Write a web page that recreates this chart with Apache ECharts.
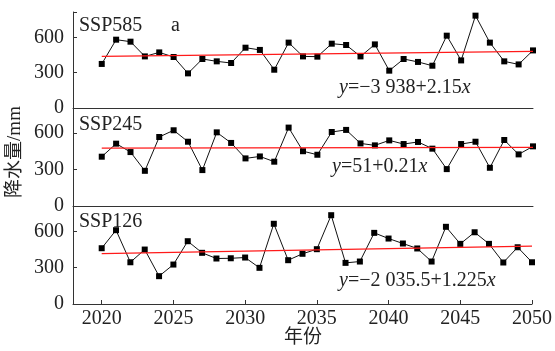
<!DOCTYPE html>
<html><head><meta charset="utf-8">
<script src="https://cdn.jsdelivr.net/npm/echarts@6/dist/echarts.min.js"></script>
<style>html,body{margin:0;padding:0;background:#fff}#c{width:555px;height:351px}</style>
</head><body><div id="c"></div>
<script>
const years = [];
for (let y = 2020; y <= 2050; y++) years.push(y);
const xTicks = [2020, 2025, 2030, 2035, 2040, 2045, 2050];
const yTicks = [0, 300, 600];
const scenarios = ['SSP585', 'SSP245', 'SSP126'];
const ssp585 = [374,580,563,438,472,433,294,416,396,382,512,493,325,555,438,436,546,535,438,540,317,416,391,359,614,404,784,555,396,370,489];
const ssp245 = [405,512,443,289,567,622,528,295,605,518,391,407,364,644,450,421,608,625,514,498,539,509,526,471,303,509,528,314,542,424,490];
const ssp126 = [461,610,345,450,230,326,519,423,376,378,384,299,663,362,415,453,734,340,351,588,541,500,459,351,638,497,593,497,343,469,345];
const trend585 = [438, 481];
const trend245 = [475, 482];
const trend126 = [417, 478];
const equations = ['{i|y}=−3 938+2.15{i|x}', '{i|y}=51+0.21{i|x}', '{i|y}=−2 035.5+1.225{i|x}'];
const xTitle = '年份';
const yTitle = '降水量/mm';
const yMax = [815, 805, 810];

const FONT = 'Liberation Serif';
const CJK = 'Liberation Serif, Noto Sans CJK SC';
const TXT = '#222';
const values = [ssp585, ssp245, ssp126];
const trends = [trend585, trend245, trend126];
const grids = [{top: 12, height: 96}, {top: 108, height: 98}, {top: 206, height: 98}];

const option = {
  animation: true,
  animationDuration: 200,
  animationDurationUpdate: 0,
  grid: grids.map(g => ({left: 73, width: 460, top: g.top, height: g.height, containLabel: false})),
  xAxis: grids.map((g, i) => ({
    type: 'value', gridIndex: i, min: 2018, max: 2050,
    axisLine: {show: true, onZero: false, lineStyle: {color: '#333', width: 1}},
    axisTick: {show: i === 2, inside: true, length: 4, customValues: xTicks, lineStyle: {color: '#333'}},
    axisLabel: {show: i === 2, customValues: xTicks, fontFamily: FONT, fontSize: 20, color: TXT, margin: 5,
      formatter: v => String(v)},
    splitLine: {show: false}
  })),
  yAxis: grids.map((g, i) => ({
    type: 'value', gridIndex: i, min: 0, max: yMax[i], interval: 300,
    axisLine: {show: true, lineStyle: {color: '#333', width: 1}},
    axisTick: {show: true, inside: true, length: 4, lineStyle: {color: '#333'}},
    axisLabel: {fontFamily: FONT, fontSize: 20, color: TXT, margin: 9,
      formatter: v => (yTicks.indexOf(v) >= 0 ? String(v) : '')},
    splitLine: {show: false}
  })),
  series: [],
  graphic: []
};
values.forEach((vals, i) => {
  option.series.push({
    type: 'line', xAxisIndex: i, yAxisIndex: i,
    data: years.map((y, k) => [y, vals[k]]),
    symbol: 'rect', symbolSize: 6,
    lineStyle: {color: '#111', width: 1},
    itemStyle: {color: '#000'},
    z: 3
  });
  option.series.push({
    type: 'line', xAxisIndex: i, yAxisIndex: i,
    data: [[years[0], trends[i][0]], [years[years.length - 1], trends[i][1]]],
    symbol: 'none',
    lineStyle: {color: '#ff1a1a', width: 1.2},
    z: 4
  });
});
const labelY = [26, 125, 222];
const eqX = [339, 332, 339];
const eqY = [89, 168, 282];
scenarios.forEach((s, i) => {
  option.graphic.push({type: 'text', left: 79, top: labelY[i] - 10,
    style: {text: s, fontFamily: FONT, fontSize: 20, fill: TXT}});
  option.graphic.push({type: 'text', left: eqX[i], top: eqY[i] - 11,
    style: {text: equations[i], fontFamily: FONT, fontSize: 20, fill: TXT,
      rich: {i: {fontStyle: 'italic', fontFamily: FONT, fontSize: 20, fill: TXT}}}});
});
option.graphic.push({type: 'text', left: 171, top: 16, style: {text: 'a', fontFamily: FONT, fontSize: 20, fill: TXT}});
option.graphic.push({type: 'text', left: 284, top: 329, style: {text: xTitle, fontFamily: CJK, fontSize: 19, fill: TXT}});
option.graphic.push({type: 'text', x: 15, y: 152, rotation: Math.PI / 2,
  style: {text: yTitle, fontFamily: CJK, fontSize: 19, fill: TXT, align: 'center', verticalAlign: 'middle'}});

const chart = echarts.init(document.getElementById('c'));
chart.setOption(option);
</script></body></html>
